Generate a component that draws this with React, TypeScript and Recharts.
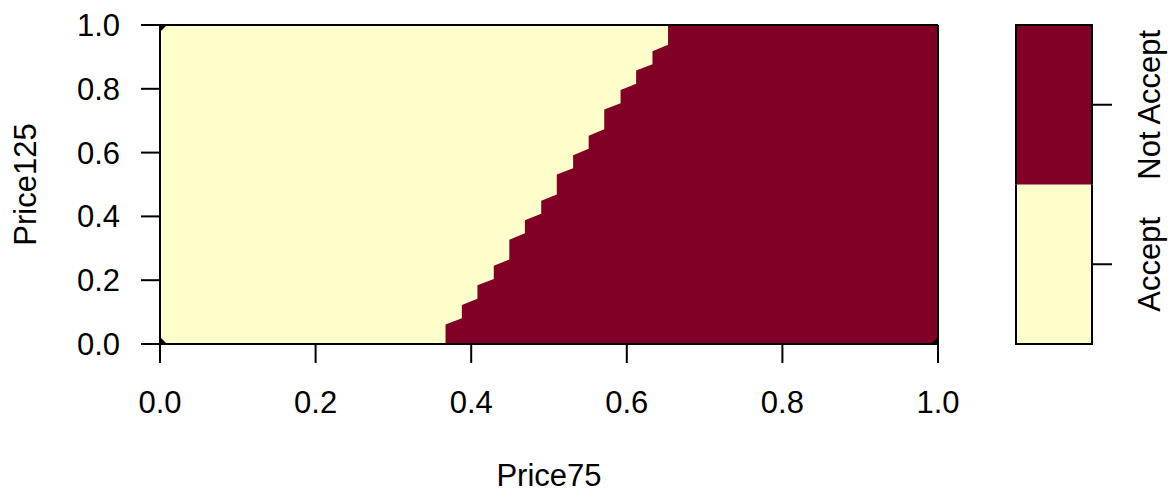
import { ComposedChart, Area, Scatter, XAxis, YAxis, CartesianGrid, BarChart, Bar } from 'recharts';

// decision boundary: left edge of each step column and its top
const stepX = [0.367, 0.388, 0.408, 0.429, 0.449, 0.469, 0.49, 0.51, 0.531, 0.551, 0.571, 0.592, 0.612, 0.633, 0.653];
const stepTop = [0.061, 0.122, 0.184, 0.245, 0.327, 0.388, 0.449, 0.531, 0.592, 0.653, 0.735, 0.796, 0.857, 0.918, 1.0];
const stepRise = 0.02;

const xTicks = [0, 0.2, 0.4, 0.6, 0.8, 1];
const yTicks = [0, 0.2, 0.4, 0.6, 0.8, 1];
const classes = ['Accept', 'Not Accept'];
const classColors = ['#FFFFCC', '#800026'];
const classShares = [1, 1];
const cornerPoints = [
  { x: 0, y: 1 },
  { x: 0, y: 0 },
  { x: 1, y: 0 },
];

const boundary: { x: number; y: number }[] = [{ x: stepX[0], y: 0 }];
stepX.forEach((x, i) => {
  if (i > 0) boundary.push({ x, y: stepTop[i - 1] + stepRise });
  boundary.push({ x, y: stepTop[i] });
});
boundary.push({ x: 1, y: 1 });

const legendRow: Record<string, any> = { key: 'key' };
classes.forEach((c, i) => (legendRow[c] = classShares[i]));

const font = '"Liberation Sans", Arial, Helvetica, sans-serif';
const fontSize = 31;
const line = { stroke: '#000', strokeWidth: 2 };
const tickStyle = { fontSize, fill: '#000', fontFamily: font };

const XLabel = (props: any) => {
  const vb = props.viewBox || { x: 160, y: 344, width: 778, height: 148 };
  return (
    <text x={vb.x + vb.width / 2} y={vb.y + vb.height - 6} textAnchor="middle" fontSize={fontSize} fontFamily={font} fill="#000">
      Price75
    </text>
  );
};

const YLabel = (props: any) => {
  const vb = props.viewBox || { x: 0, y: 25, width: 160, height: 319 };
  const x = vb.x + 36;
  const y = vb.y + vb.height / 2;
  return (
    <text x={x} y={y} transform={`rotate(-90 ${x} ${y})`} textAnchor="middle" fontSize={fontSize} fontFamily={font} fill="#000">
      Price125
    </text>
  );
};

const Corner = (p: any) => {
  const { cx, cy, payload } = p;
  const dx = payload.x < 0.5 ? 1 : -1;
  const dy = payload.y > 0.5 ? 1 : -1;
  return <polygon points={`${cx},${cy} ${cx + 7 * dx},${cy} ${cx},${cy + 7 * dy}`} fill="#000" />;
};

const LegendTick = (props: any) => {
  const { x, y, payload } = props;
  const label = classes[Math.floor(payload.value)];
  return (
    <text x={x} y={y} transform={`rotate(-90 ${x} ${y})`} textAnchor="middle" fontSize={fontSize} fontFamily={font} fill="#000">
      {label}
    </text>
  );
};

// key block: filled rect plus the outer frame edges (no line between the two classes)
const keyShape = (isTop: boolean) => (p: any) => {
  const { x, y, width, height, fill } = p;
  const edge = isTop
    ? `M${x},${y + height} L${x},${y} L${x + width},${y} L${x + width},${y + height}`
    : `M${x},${y} L${x},${y + height} L${x + width},${y + height} L${x + width},${y}`;
  return (
    <g>
      <rect x={x} y={y} width={width} height={height} fill={fill} />
      <path d={edge} fill="none" stroke="#000" strokeWidth={2} />
    </g>
  );
};

export default function App() {
  return (
    <div style={{ position: 'absolute', left: 0, top: 0, width: 1169, height: 492, background: '#fff' }}>
      <div style={{ position: 'absolute', left: 0, top: 0 }}>
        <ComposedChart width={1169} height={492} data={boundary} margin={{ top: 24, right: 230, bottom: 0, left: 0 }}>
          <CartesianGrid fill={classColors[0]} horizontal={false} vertical={false} stroke="none" />
          <Area dataKey="y" type="linear" baseValue={0} fill={classColors[1]} fillOpacity={1} stroke="none" isAnimationActive={false} />
          <Scatter data={cornerPoints} dataKey="y" shape={Corner} isAnimationActive={false} />
          <XAxis
            type="number"
            dataKey="x"
            domain={[0, 1]}
            ticks={xTicks}
            interval={0}
            allowDataOverflow
            height={148}
            tickSize={19}
            tickMargin={28}
            tickFormatter={(v) => Number(v).toFixed(1)}
            tick={tickStyle}
            axisLine={line}
            tickLine={line}
            label={XLabel}
          />
          <XAxis xAxisId="top" orientation="top" type="number" domain={[0, 1]} height={1} tick={false} tickLine={false} axisLine={line} />
          <YAxis
            type="number"
            domain={[0, 1]}
            ticks={yTicks}
            interval={0}
            allowDataOverflow
            width={160}
            tickSize={19}
            tickMargin={21}
            tickFormatter={(v) => Number(v).toFixed(1)}
            tick={tickStyle}
            axisLine={line}
            tickLine={line}
            label={YLabel}
          />
          <YAxis yAxisId="right" orientation="right" type="number" domain={[0, 1]} width={1} tick={false} tickLine={false} axisLine={line} />
        </ComposedChart>
      </div>
      <div style={{ position: 'absolute', left: 1000, top: 0 }}>
        <BarChart width={169} height={492} data={[legendRow]} margin={{ top: 25, right: 0, bottom: 148, left: 16 }} barCategoryGap={0}>
          {classes.map((c, i) => (
            <Bar
              key={c}
              dataKey={c}
              stackId="s"
              fill={classColors[i]}
              shape={keyShape(i === classes.length - 1)}
              isAnimationActive={false}
            />
          ))}
          <XAxis dataKey="key" hide />
          <YAxis
            orientation="right"
            type="number"
            domain={[0, 2]}
            ticks={[0.5, 1.5]}
            interval={0}
            width={77}
            tickSize={20}
            tickMargin={48}
            tick={LegendTick}
            axisLine={false}
            tickLine={line}
          />
        </BarChart>
      </div>
    </div>
  );
}
